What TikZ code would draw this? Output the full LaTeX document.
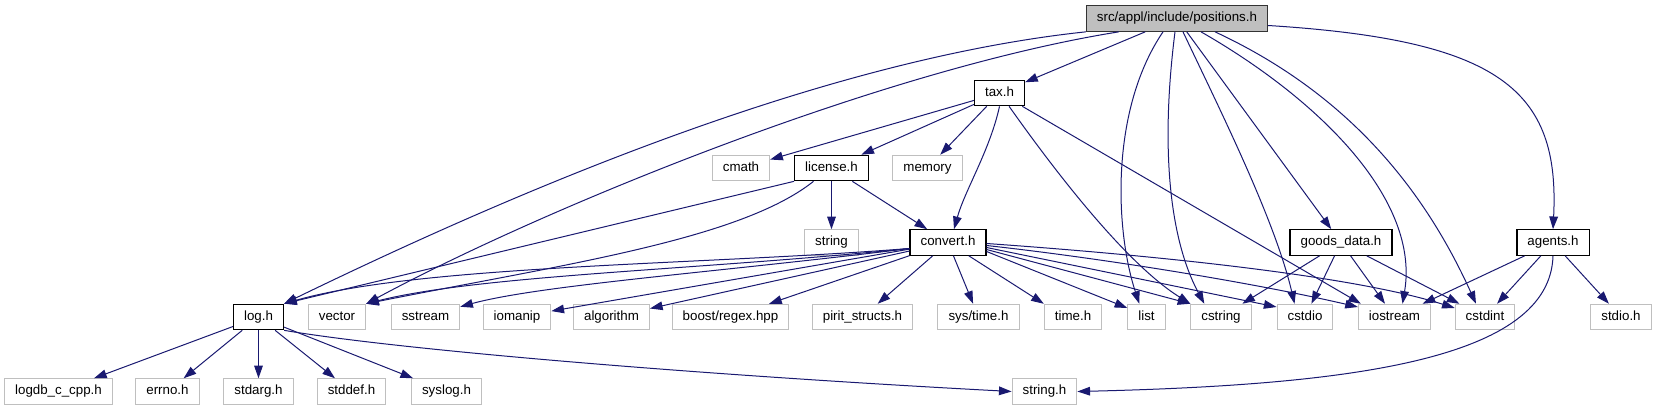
\documentclass[tikz,border=0pt]{standalone}
\usepackage{fontspec}
\setmainfont{Liberation Sans}
\usetikzlibrary{calc, positioning}
\usetikzlibrary{arrows.meta}

\definecolor{edgeblue}{HTML}{191970}
\definecolor{boxgray}{HTML}{BFBFBF}

\tikzset{
  hfile/.style={draw=black, line width=0.9pt, fill=white, minimum height=19.1pt,
    inner xsep=7.9pt, inner ysep=0pt, text height=7.3pt, text depth=2.1pt,
    font=\fontsize{10}{12}\selectfont},
  sysfile/.style={hfile, draw=boxgray, line width=0.75pt},
  rootfile/.style={hfile, fill=boxgray, draw=black!80},
  dep/.style={draw=edgeblue, line width=0.75pt, -{Triangle[length=9.5pt,width=6.5pt]}}
}

\begin{document}
\begin{tikzpicture}[x=0.75pt,y=-0.75pt]
\useasboundingbox (0,0) rectangle (1657,411);

% headers of the project
\node[rootfile] (root) at (1177,18.5) {src/appl/include/positions.h};
\node[hfile] (tax) at (999.5,93) {tax.h};
\node[hfile] (license) at (831.5,168) {license.h};
\node[hfile] (convert) at (948,242.5) {convert.h};
\node[hfile] (goods) at (1341,242.5) {goods\_data.h};
\node[hfile] (agents) at (1553,242.5) {agents.h};
\node[hfile] (log) at (258.5,317) {log.h};

% system headers
\node[sysfile] (cmath) at (741,168) {cmath};
\node[sysfile] (memory) at (927.5,168) {memory};
\node[sysfile] (string) at (831.5,242.5) {string};
\node[sysfile] (vector) at (337,317) {vector};
\node[sysfile] (sstream) at (425.5,317) {sstream};
\node[sysfile] (iomanip) at (517,317) {iomanip};
\node[sysfile] (algorithm) at (611.5,317) {algorithm};
\node[sysfile] (boost) at (730.5,317) {boost/regex.hpp};
\node[sysfile] (pirit) at (862.5,317) {pirit\_structs.h};
\node[sysfile] (systime) at (978.5,317) {sys/time.h};
\node[sysfile] (time) at (1073,317) {time.h};
\node[sysfile] (list) at (1146.5,317) {list};
\node[sysfile] (cstring) at (1221,317) {cstring};
\node[sysfile] (cstdio) at (1305,317) {cstdio};
\node[sysfile] (iostream) at (1394.5,317) {iostream};
\node[sysfile] (cstdint) at (1485,317) {cstdint};
\node[sysfile] (stdio) at (1621,317) {stdio.h};
\node[sysfile] (logdb) at (58.5,391.5) {logdb\_c\_cpp.h};
\node[sysfile] (errno) at (167.5,391.5) {errno.h};
\node[sysfile] (stdarg) at (258.5,391.5) {stdarg.h};
\node[sysfile] (stddef) at (351.5,391.5) {stddef.h};
\node[sysfile] (syslog) at (446.5,391.5) {syslog.h};
\node[sysfile] (stringh) at (1044.5,391.5) {string.h};

% positions.h
\draw[dep] (root.south west) .. controls (820,60) and (510,194) .. (log.north east);
\draw[dep] ($(root.south west)+(33,0)$) .. controls (880,70) and (540,210) .. (vector.north east);
\draw[dep] (root) -- (tax);
\draw[dep] ($(root.south)+(-14,0)$) .. controls (1110,110) and (1115,230) .. ($(list.north west)+(12,0)$);
\draw[dep] ($(root.south)+(-2,0)$) .. controls (1160,150) and (1170,240) .. ($(cstring.north west)+(14,0)$);
\draw[dep] ($(root.south)+(6,0)$) .. controls (1220,110) and (1275,220) .. ($(cstdio.north west)+(18,0)$);
\draw[dep] (root) -- (goods);
\draw[dep] ($(root.south)+(24,0)$) .. controls (1320,100) and (1420,200) .. ($(iostream.north)+(8,0)$);
\draw[dep] ($(root.south)+(38,0)$) .. controls (1340,90) and (1420,180) .. ($(cstdint.north)+(-9,0)$);
\draw[dep] ($(root.east)+(0,7)$) .. controls (1500,40) and (1560,90) .. (agents.north);

% tax.h
\foreach \t in {cmath,license,memory}
  \draw[dep] (tax) -- (\t);
\draw[dep] (tax.south) .. controls (990,150) and (965,190) .. ($(convert.north)+(6,0)$);
\draw[dep] ($(tax.south east)+(-16,0)$) .. controls (1040,150) and (1120,260) .. (cstring.north west);
\draw[dep] (tax) -- ($(iostream.north west)+(3,0)$);

% license.h
\draw[dep] (license.south west) -- (log.north east);
\draw[dep] ($(license.south)+(-18,0)$) .. controls (740,240) and (560,265) .. (vector.north east);
\draw[dep] (license) -- (string);
\draw[dep] (license) -- (convert);

% convert.h
\draw[dep] ($(convert.west)+(0,6)$) .. controls (700,265) and (420,265) .. (log.north east);
\draw[dep] ($(convert.west)+(0,6)$) .. controls (700,270) and (480,275) .. (vector.north east);
\draw[dep] ($(convert.west)+(0,6)$) .. controls (720,272) and (540,285) .. ($(sstream.north east)+(0,3)$);
\foreach \t in {iomanip,algorithm,boost,pirit,systime}
  \draw[dep] (convert) -- (\t);
\draw[dep] (convert) -- (time.north west);
\draw[dep] ($(convert.east)+(0,9)$) -- ($(list.west)+(0,-9)$);
\draw[dep] ($(convert.east)+(0,7)$) -- (cstring.north west);
\draw[dep] ($(convert.east)+(0,5)$) -- ($(cstdio.west)+(0,-10)$);
\draw[dep] ($(convert.east)+(0,3)$) .. controls (1100,258) and (1250,282) .. ($(iostream.west)+(0,-10)$);
\draw[dep] ($(convert.east)+(0,1)$) .. controls (1150,255) and (1350,275) .. ($(cstdint.west)+(0,-9)$);

% goods_data.h and agents.h
\foreach \t in {cstring,cstdio,iostream,cstdint}
  \draw[dep] (goods) -- (\t);
\foreach \t in {iostream,cstdint,stdio}
  \draw[dep] (agents) -- (\t);
\draw[dep] (agents.south) .. controls (1550,360) and (1350,385) .. (stringh.east);

% log.h
\foreach \t in {logdb,errno,stdarg,stddef,syslog}
  \draw[dep] (log) -- (\t);
\draw[dep] (log.south east) .. controls (400,350) and (700,375) .. (stringh.west);
\end{tikzpicture}
\end{document}
